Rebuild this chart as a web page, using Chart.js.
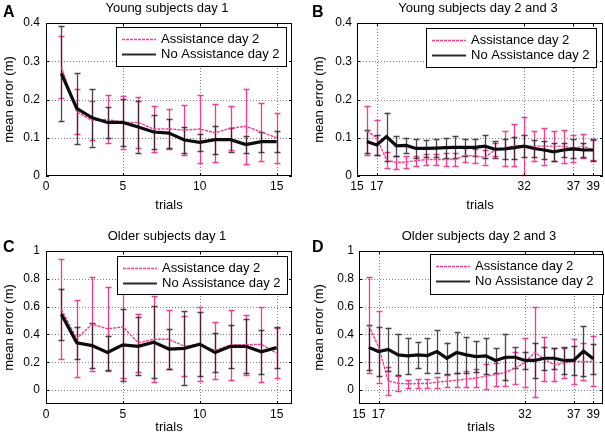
<!DOCTYPE html>
<html><head><meta charset="utf-8">
<script src="https://cdn.jsdelivr.net/npm/chart.js@4.4.1/dist/chart.umd.min.js"></script>
<style>
html,body{margin:0;padding:0;background:#fff;}
#wrap{position:relative;width:605px;height:442px;overflow:hidden;background:#fff;}
#wrap canvas{position:absolute;left:0;top:0;}
</style></head><body>
<div id="wrap">
<canvas id="cA" width="605" height="442"></canvas>
<canvas id="cB" width="605" height="442"></canvas>
<canvas id="cC" width="605" height="442"></canvas>
<canvas id="cD" width="605" height="442"></canvas>
</div>
<script>
// ---------- data ----------
const trialsDay1 = [1,2,3,4,5,6,7,8,9,10,11,12,13,14,15];
const trialsDay23 = [16,17,18,19,20,21,22,23,24,25,26,27,28,29,30,31,32,33,34,35,36,37,38,39];

const seriesNames = ['Assistance day 2', 'No Assistance day 2'];

// A: Young subjects day 1
const youngDay1Assist    = [0.285,0.168,0.145,0.148,0.140,0.140,0.123,0.123,0.120,0.123,0.113,0.125,0.130,0.115,0.100];
const youngDay1AssistErr = [0.080,0.059,0.052,0.063,0.070,0.066,0.060,0.053,0.065,0.090,0.076,0.058,0.098,0.076,0.065];
const youngDay1NoAssist    = [0.268,0.177,0.152,0.140,0.140,0.128,0.115,0.112,0.094,0.088,0.095,0.095,0.082,0.090,0.090];
const youngDay1NoAssistErr = [0.124,0.093,0.075,0.040,0.062,0.069,0.044,0.038,0.034,0.023,0.037,0.031,0.023,0.026,0.028];

// B: Young subjects day 2 and 3
const youngDay23Assist    = [0.118,0.100,0.042,0.035,0.037,0.040,0.043,0.043,0.043,0.043,0.055,0.052,0.049,0.068,0.072,0.080,0.078,0.078,0.078,0.078,0.078,0.072,0.078,0.068];
const youngDay23AssistErr = [0.064,0.046,0.020,0.016,0.015,0.013,0.014,0.015,0.016,0.017,0.018,0.019,0.019,0.017,0.045,0.055,0.076,0.039,0.048,0.039,0.043,0.035,0.031,0.025];
const youngDay23NoAssist    = [0.090,0.081,0.103,0.079,0.080,0.072,0.072,0.073,0.074,0.075,0.075,0.075,0.078,0.070,0.071,0.074,0.078,0.072,0.068,0.063,0.068,0.071,0.068,0.068];
const youngDay23NoAssistErr = [0.031,0.026,0.063,0.026,0.020,0.024,0.022,0.024,0.026,0.029,0.023,0.023,0.030,0.022,0.027,0.029,0.029,0.022,0.024,0.024,0.019,0.025,0.019,0.028];

// C: Older subjects day 1
const olderDay1Assist    = [0.580,0.370,0.475,0.440,0.455,0.340,0.365,0.365,0.315,0.330,0.285,0.325,0.325,0.330,0.265];
const olderDay1AssistErr = [0.360,0.276,0.335,0.300,0.365,0.210,0.310,0.210,0.215,0.267,0.205,0.250,0.215,0.270,0.180];
const olderDay1NoAssist    = [0.545,0.340,0.320,0.270,0.325,0.315,0.345,0.295,0.300,0.330,0.270,0.315,0.315,0.275,0.305];
const olderDay1NoAssistErr = [0.185,0.117,0.163,0.122,0.260,0.207,0.256,0.145,0.266,0.228,0.137,0.156,0.195,0.157,0.147];

// D: Older subjects day 2 and 3
const olderDay23Assist    = [0.466,0.310,0.067,0.048,0.045,0.047,0.047,0.057,0.064,0.071,0.080,0.087,0.100,0.111,0.128,0.158,0.199,0.272,0.222,0.182,0.194,0.206,0.206,0.206];
const olderDay23AssistErr = [0.345,0.256,0.100,0.055,0.030,0.030,0.033,0.039,0.042,0.050,0.057,0.065,0.090,0.085,0.100,0.115,0.175,0.325,0.160,0.120,0.110,0.160,0.130,0.180];
const olderDay23NoAssist    = [0.307,0.277,0.293,0.253,0.246,0.253,0.248,0.277,0.229,0.270,0.253,0.241,0.246,0.213,0.236,0.236,0.213,0.213,0.229,0.229,0.213,0.213,0.281,0.225];
const olderDay23NoAssistErr = [0.160,0.175,0.157,0.148,0.130,0.095,0.127,0.152,0.113,0.148,0.130,0.111,0.130,0.087,0.164,0.076,0.064,0.123,0.083,0.076,0.099,0.104,0.178,0.106];

// ticks
const xTicksDay1 = [0,5,10,15];
const xTicksDay23 = [15,17,32,37,39];
const yTicksYoung = [0,0.1,0.2,0.3,0.4];
const yLabelsYoung = ['0','0.1','0.2','0.3','0.4'];
const yTicksOlder = [0,0.2,0.4,0.6,0.8,1];
const yLabelsOlder = ['0','0.2','0.4','0.6','0.8','1'];

const titles = ['Young subjects day 1','Young subjects day 2 and 3','Older subjects day 1','Older subjects day 2 and 3'];
const letters = ['A','B','C','D'];

// ---------- drawing ----------
const FONT = '"Liberation Sans", Arial, Helvetica, sans-serif';
const PINK = '#ec3f95';
const DARK = '#0c0c0c';
const W = 605, H = 442;

const framePlugin = {
  id: 'frame',
  beforeDatasetsDraw(chart) {
    const o = chart.options.plugins.frame;
    const ctx = chart.ctx, a = chart.chartArea;
    const xs = chart.scales.x, ys = chart.scales.y;
    ctx.save();
    // dotted grid
    ctx.strokeStyle = '#7a7a7a';
    ctx.lineWidth = 1;
    ctx.setLineDash([1,2]);
    o.xTicks.forEach(v => {
      const px = Math.round(xs.getPixelForValue(v)) + 0.5;
      if (px <= a.left + 1 || px >= a.right - 1) return;
      ctx.beginPath(); ctx.moveTo(px, a.top); ctx.lineTo(px, a.bottom); ctx.stroke();
    });
    o.yTicks.forEach(v => {
      const py = Math.round(ys.getPixelForValue(v)) + 0.5;
      if (py <= a.top + 1 || py >= a.bottom - 1) return;
      ctx.beginPath(); ctx.moveTo(a.left, py); ctx.lineTo(a.right, py); ctx.stroke();
    });
    ctx.setLineDash([]);
    // error bars (last dataset first)
    const ds = chart.data.datasets;
    for (let d = ds.length - 1; d >= 0; d--) {
      const set = ds[d];
      ctx.strokeStyle = set.errColor;
      ctx.lineWidth = 1.3;
      set.data.forEach((pt, i) => {
        const e = set.err[i];
        const px = Math.round(xs.getPixelForValue(pt.x)) + 0.5;
        const yt = ys.getPixelForValue(pt.y + e);
        const yb = ys.getPixelForValue(pt.y - e);
        ctx.beginPath();
        ctx.moveTo(px, yt); ctx.lineTo(px, yb);
        ctx.moveTo(px - 3, Math.round(yt) + 0.5); ctx.lineTo(px + 3, Math.round(yt) + 0.5);
        ctx.moveTo(px - 3, Math.round(yb) + 0.5); ctx.lineTo(px + 3, Math.round(yb) + 0.5);
        ctx.stroke();
      });
    }
    ctx.restore();
  },
  afterDatasetsDraw(chart) {
    const o = chart.options.plugins.frame;
    const ctx = chart.ctx, a = chart.chartArea;
    const xs = chart.scales.x, ys = chart.scales.y;
    ctx.save();
    // box
    ctx.strokeStyle = '#000';
    ctx.lineWidth = 1;
    ctx.strokeRect(a.left + 0.5, a.top + 0.5, a.right - a.left - 1, a.bottom - a.top - 1);
    // inward tick marks on all sides
    ctx.beginPath();
    o.xTicks.forEach(v => {
      const px = Math.round(xs.getPixelForValue(v)) + 0.5;
      ctx.moveTo(px, a.bottom); ctx.lineTo(px, a.bottom - 3);
      ctx.moveTo(px, a.top); ctx.lineTo(px, a.top + 3);
    });
    o.yTicks.forEach(v => {
      const py = Math.round(ys.getPixelForValue(v)) + 0.5;
      ctx.moveTo(a.left, py); ctx.lineTo(a.left + 3, py);
      ctx.moveTo(a.right, py); ctx.lineTo(a.right - 3, py);
    });
    ctx.stroke();
    // legend
    const L = o.legend;
    const bx = a.right - L.right - L.w, by = a.top + L.top;
    ctx.fillStyle = '#fff';
    ctx.fillRect(bx, by, L.w, L.h);
    ctx.strokeStyle = '#000';
    ctx.strokeRect(Math.round(bx) + 0.5, Math.round(by) + 0.5, L.w, L.h);
    const ds = chart.data.datasets;
    const entries = [ds[1], ds[0]];
    entries.forEach((set, k) => {
      const yy = Math.round(by + 12 + k * 15) + 0.5;
      ctx.beginPath();
      ctx.strokeStyle = set.legendColor;
      ctx.lineWidth = set.legendWidth;
      ctx.setLineDash(set.borderDash || []);
      ctx.moveTo(bx + 6, yy); ctx.lineTo(bx + 40, yy);
      ctx.stroke();
      ctx.setLineDash([]);
      ctx.fillStyle = '#000';
      ctx.font = '13px ' + FONT;
      ctx.textBaseline = 'middle';
      ctx.textAlign = 'left';
      ctx.fillText(set.label, bx + 45, yy);
    });
    // title
    ctx.fillStyle = '#000';
    ctx.font = '13px ' + FONT;
    ctx.textAlign = 'center';
    ctx.textBaseline = 'alphabetic';
    ctx.fillText(o.title, (a.left + a.right) / 2 - 2, o.titleY);
    // letter
    ctx.font = 'bold 16px ' + FONT;
    ctx.textAlign = 'left';
    ctx.fillText(o.letter, o.letterX, o.letterY);
    ctx.restore();
  }
};

function makePanel(id, p) {
  const ar = p.area;
  const mk = (vals) => p.trials.map((t, i) => ({x: t, y: vals[i]}));
  return new Chart(document.getElementById(id), {
    type: 'line',
    data: {
      datasets: [
        {label: seriesNames[1], data: mk(p.noAssist), err: p.noAssistErr,
         borderColor: DARK, borderWidth: 3.2, pointRadius: 0, order: 0,
         errColor: 'rgba(30,25,30,0.8)', legendColor: '#2a2a2a', legendWidth: 1.8, tension: 0},
        {label: seriesNames[0], data: mk(p.assist), err: p.assistErr,
         borderColor: PINK, borderWidth: 1.4, borderDash: [3,1], pointRadius: 0, order: 1,
         errColor: PINK, legendColor: PINK, legendWidth: 1.5, tension: 0}
      ]
    },
    options: {
      responsive: false, animation: false, devicePixelRatio: 1,
      layout: {padding: {left: ar.left - p.yW, right: W - ar.right, top: ar.top, bottom: H - ar.bottom - p.xH}},
      plugins: {
        legend: {display: false}, tooltip: {enabled: false},
        frame: {xTicks: p.xTicks, yTicks: p.yTicks, legend: p.legend, title: p.title,
                titleY: p.titleY, letter: p.letter, letterX: p.letterX, letterY: p.letterY}
      },
      scales: {
        x: {
          type: 'linear', min: p.xMin, max: p.xMax,
          afterBuildTicks: s => { s.ticks = p.xTicks.map(v => ({value: v})); },
          afterFit: s => { s.height = p.xH; },
          grid: {display: false, drawTicks: false}, border: {display: false},
          ticks: {autoSkip: false, maxRotation: 0, minRotation: 0, padding: 3, color: '#000',
                  font: {family: FONT, size: 12}, callback: v => String(v)},
          title: {display: true, text: 'trials', color: '#000', font: {family: FONT, size: 13}, padding: 0}
        },
        y: {
          type: 'linear', min: p.yMin, max: p.yMax,
          afterBuildTicks: s => { s.ticks = p.yTicks.map(v => ({value: v})); },
          afterFit: s => { s.width = p.yW; },
          grid: {display: false, drawTicks: false}, border: {display: false},
          ticks: {autoSkip: false, padding: p.yPad, color: '#000',
                  font: {family: FONT, size: 12}, callback: (v, i) => p.yLabels[i]},
          title: {display: true, text: 'mean error (m)', color: '#000', font: {family: FONT, size: 13}, padding: 0}
        }
      }
    },
    plugins: [framePlugin]
  });
}

makePanel('cA', {
  trials: trialsDay1, assist: youngDay1Assist, assistErr: youngDay1AssistErr,
  noAssist: youngDay1NoAssist, noAssistErr: youngDay1NoAssistErr,
  xMin: 0, xMax: 16, xTicks: xTicksDay1, yMin: 0, yMax: 0.4, yTicks: yTicksYoung, yLabels: yLabelsYoung,
  area: {left: 46, right: 292, top: 23, bottom: 176}, yW: 44, xH: 37, yPad: 6,
  legend: {right: 6, top: 4, w: 170, h: 39},
  title: titles[0], titleY: 12, letter: letters[0], letterX: 3, letterY: 17
});
makePanel('cB', {
  trials: trialsDay23, assist: youngDay23Assist, assistErr: youngDay23AssistErr,
  noAssist: youngDay23NoAssist, noAssistErr: youngDay23NoAssistErr,
  xMin: 15, xMax: 40, xTicks: xTicksDay23, yMin: 0, yMax: 0.4, yTicks: yTicksYoung, yLabels: yLabelsYoung,
  area: {left: 357, right: 603, top: 23, bottom: 176}, yW: 45, xH: 37, yPad: 5,
  legend: {right: 7, top: 5, w: 170, h: 39},
  title: titles[1], titleY: 12, letter: letters[1], letterX: 312, letterY: 17
});
makePanel('cC', {
  trials: trialsDay1, assist: olderDay1Assist, assistErr: olderDay1AssistErr,
  noAssist: olderDay1NoAssist, noAssistErr: olderDay1NoAssistErr,
  xMin: 0, xMax: 16, xTicks: xTicksDay1, yMin: -0.1, yMax: 1, yTicks: yTicksOlder, yLabels: yLabelsOlder,
  area: {left: 46, right: 292, top: 251, bottom: 404}, yW: 44, xH: 31, yPad: 6,
  legend: {right: 5, top: 5, w: 170, h: 38},
  title: titles[2], titleY: 240, letter: letters[2], letterX: 3, letterY: 252
});
makePanel('cD', {
  trials: trialsDay23, assist: olderDay23Assist, assistErr: olderDay23AssistErr,
  noAssist: olderDay23NoAssist, noAssistErr: olderDay23NoAssistErr,
  xMin: 15, xMax: 40, xTicks: xTicksDay23, yMin: -0.1, yMax: 1, yTicks: yTicksOlder, yLabels: yLabelsOlder,
  area: {left: 359, right: 603, top: 251, bottom: 404}, yW: 47, xH: 31, yPad: 5,
  legend: {right: 0, top: 3, w: 173, h: 40},
  title: titles[3], titleY: 240, letter: letters[3], letterX: 312, letterY: 252
});
</script>
</body></html>
